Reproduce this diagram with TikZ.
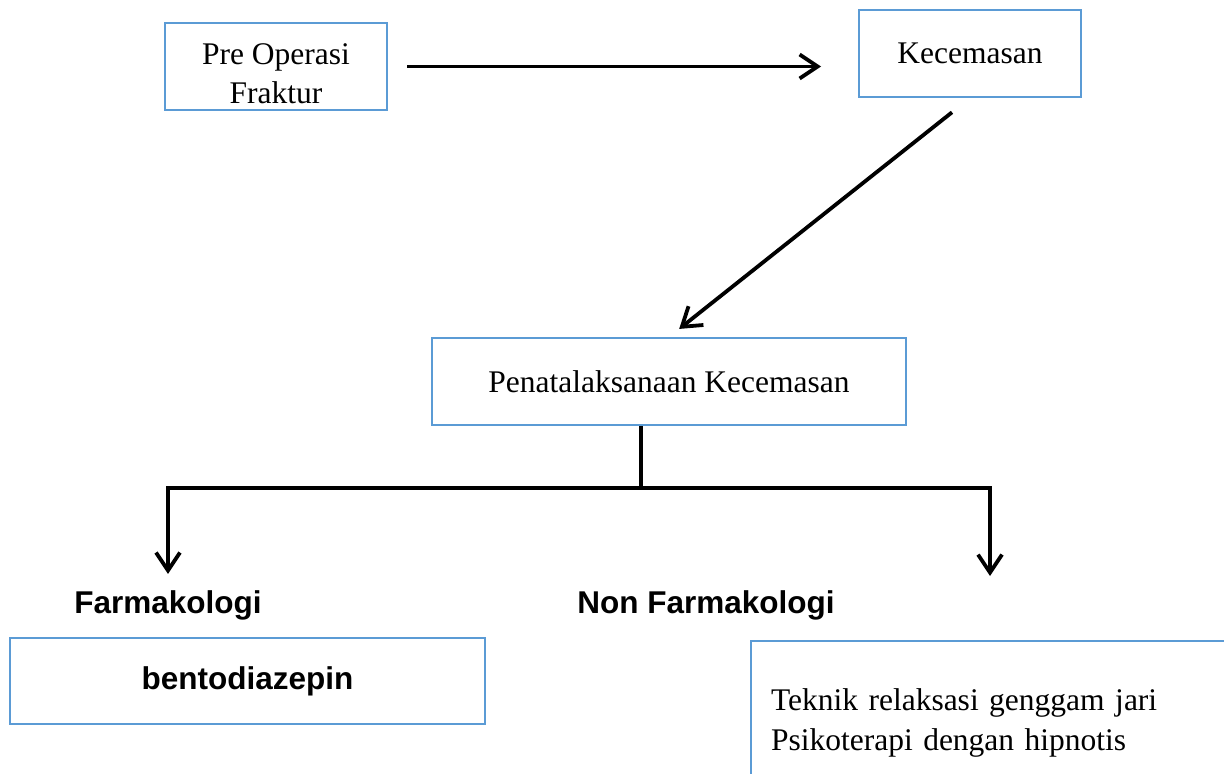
\documentclass[tikz,border=0pt]{standalone}
\usepackage{fontspec}
\setmainfont{Liberation Serif}
\setsansfont{Liberation Sans}
\usetikzlibrary{arrows.meta}
\definecolor{boxblue}{HTML}{5B9BD5}
\begin{document}
\begin{tikzpicture}[x=0.5pt,y=-0.5pt,line width=1.9pt,>={Straight Barb[length=9pt,width=12pt]}]
\tikzstyle{every node}=[font=\fontsize{15.75}{19.5}\selectfont]
\tikzstyle{box}=[draw=boxblue,line width=1pt,inner sep=0pt,minimum width=#1,minimum height=43.5pt,align=center]
\tikzstyle{lbl}=[inner sep=0pt,font=\sffamily\bfseries\fontsize{15.75}{19.5}\selectfont]
\useasboundingbox (0,0) rectangle (1224,773);
\node[box=111pt,text height=37pt](P) at (276,66.5) {Pre Operasi\\Fraktur};
\node[box=111pt](K) at (970,53.5) {Kecemasan};
\node[box=237pt](PK) at (669,381.5) {Penatalaksanaan Kecemasan};
\node[lbl](F) at (168,605) {Farmakologi};
\node[lbl](NF) at (706,605) {Non Farmakologi};
\node[box=237.5pt,minimum height=43pt,font=\sffamily\bfseries\fontsize{15.75}{19.5}\selectfont](B) at (247.5,681) {bentodiazepin};
\node[box=245pt,minimum height=82pt,anchor=north west,align=left,text width=225pt,inner xsep=10pt,font=\fontsize{15.75}{20}\selectfont](T) at (750,640) {Teknik relaksasi genggam jari\\Psikoterapi dengan hipnotis};

\coordinate (J) at (641,488);
\coordinate (RA) at (990,576);
\draw[->,shorten <=9.5pt,shorten >=18.5pt] (P.east) -- (P.east -| K.west);
\draw[->,shorten <=11.5pt,shorten >=6.5pt] (K.south) -- (PK.north);
\draw (J |- PK.south) -- (J);
\draw[->,shorten >=7.2pt] (J) -| (F.north);
\draw[->] (J) -| (RA);
\end{tikzpicture}
\end{document}
